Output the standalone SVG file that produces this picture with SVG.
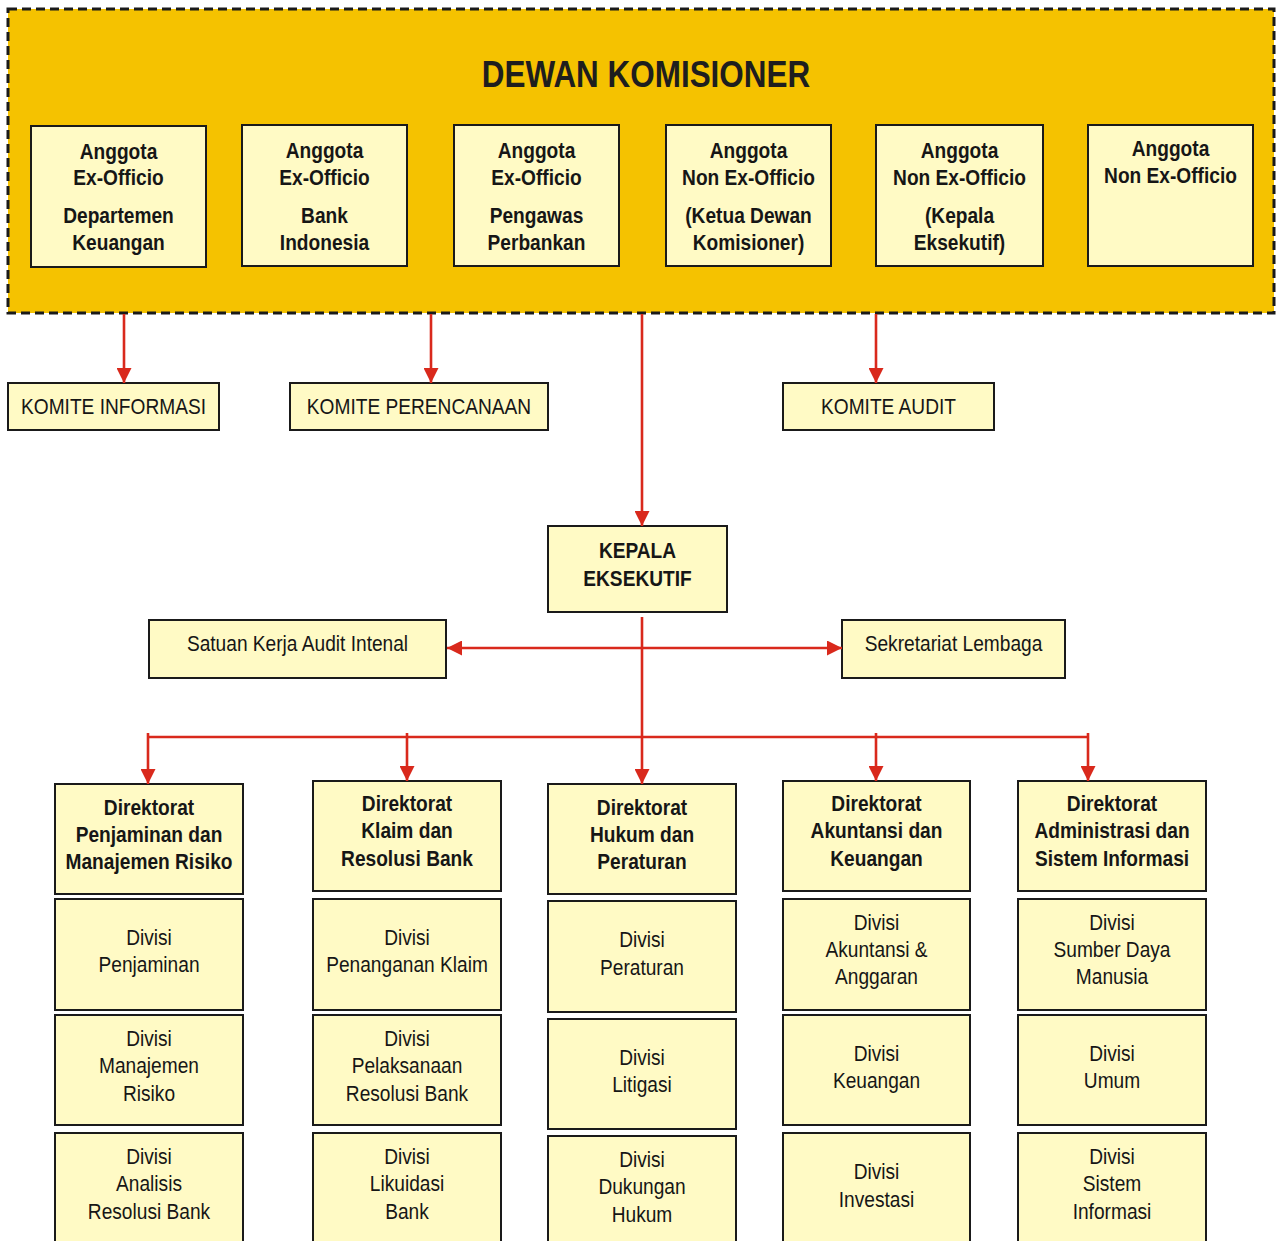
<svg xmlns="http://www.w3.org/2000/svg" width="1276" height="1241" viewBox="0 0 1276 1241">
<style>
.box{fill:#FFFAC5;stroke:#1a1a1a;stroke-width:2}
.sh{fill:#cfcfcf}
.b{font-family:"Liberation Sans",Arial,sans-serif;font-size:22px;font-weight:bold;fill:#161616;text-anchor:middle}
.r{font-family:"Liberation Sans",Arial,sans-serif;font-size:22px;fill:#161616;text-anchor:middle}
.t{font-family:"Liberation Sans",Arial,sans-serif;font-size:37px;font-weight:bold;fill:#1e1e1e;text-anchor:middle}
.ln{stroke:#D9291C;stroke-width:2.6;fill:none}
</style>
<defs>
<marker id="ah" viewBox="0 0 10 10" refX="10" refY="5" markerUnits="userSpaceOnUse" markerWidth="15" markerHeight="15" orient="auto-start-reverse">
<path d="M0,0 L10,5 L0,10 z" fill="#D9291C"/>
</marker>
</defs>
<rect width="1276" height="1241" fill="#ffffff"/>

<g id="dewan">
<rect x="8" y="9" width="1266" height="304" fill="#F5C200" stroke="#1a1a1a" stroke-width="3" stroke-dasharray="9,5"/>
<text class="t" transform="translate(646 0) scale(0.85 1)" x="0" y="87">DEWAN KOMISIONER</text>
</g>

<g id="a1"><rect class="box" x="31" y="126" width="175" height="141"/>
<text class="b" transform="translate(118.5 0) scale(0.87 1)"><tspan x="0" y="159">Anggota</tspan><tspan x="0" y="185">Ex-Officio</tspan><tspan x="0" y="223">Departemen</tspan><tspan x="0" y="250">Keuangan</tspan></text></g>
<g id="a2"><rect class="box" x="242" y="125" width="165" height="141"/>
<text class="b" transform="translate(324.5 0) scale(0.87 1)"><tspan x="0" y="158">Anggota</tspan><tspan x="0" y="185">Ex-Officio</tspan><tspan x="0" y="223">Bank</tspan><tspan x="0" y="250">Indonesia</tspan></text></g>
<g id="a3"><rect class="box" x="454" y="125" width="165" height="141"/>
<text class="b" transform="translate(536.5 0) scale(0.87 1)"><tspan x="0" y="158">Anggota</tspan><tspan x="0" y="185">Ex-Officio</tspan><tspan x="0" y="223">Pengawas</tspan><tspan x="0" y="250">Perbankan</tspan></text></g>
<g id="a4"><rect class="box" x="666" y="125" width="165" height="141"/>
<text class="b" transform="translate(748.5 0) scale(0.87 1)"><tspan x="0" y="158">Anggota</tspan><tspan x="0" y="185">Non Ex-Officio</tspan><tspan x="0" y="223">(Ketua Dewan</tspan><tspan x="0" y="250">Komisioner)</tspan></text></g>
<g id="a5"><rect class="box" x="876" y="125" width="167" height="141"/>
<text class="b" transform="translate(959.5 0) scale(0.87 1)"><tspan x="0" y="158">Anggota</tspan><tspan x="0" y="185">Non Ex-Officio</tspan><tspan x="0" y="223">(Kepala</tspan><tspan x="0" y="250">Eksekutif)</tspan></text></g>
<g id="a6"><rect class="box" x="1088" y="125" width="165" height="141"/>
<text class="b" transform="translate(1170.5 0) scale(0.87 1)"><tspan x="0" y="156">Anggota</tspan><tspan x="0" y="183">Non Ex-Officio</tspan></text></g>

<g id="k1"><rect class="box" x="8" y="383" width="211" height="47"/>
<text class="r" transform="translate(113.5 0) scale(0.87 1)" x="0" y="414">KOMITE INFORMASI</text></g>
<g id="k2"><rect class="box" x="290" y="383" width="258" height="47"/>
<text class="r" transform="translate(419 0) scale(0.87 1)" x="0" y="414">KOMITE PERENCANAAN</text></g>
<g id="k3"><rect class="box" x="783" y="383" width="211" height="47"/>
<text class="r" transform="translate(888.5 0) scale(0.87 1)" x="0" y="414">KOMITE AUDIT</text></g>

<g id="kepala"><rect class="box" x="548" y="526" width="179" height="86"/>
<text class="b" transform="translate(637.5 0) scale(0.87 1)"><tspan x="0" y="558">KEPALA</tspan><tspan x="0" y="586">EKSEKUTIF</tspan></text></g>
<g id="skai"><rect class="box" x="149" y="620" width="297" height="58"/>
<text class="r" transform="translate(297.5 0) scale(0.87 1)" x="0" y="651">Satuan Kerja Audit Intenal</text></g>
<g id="sekr"><rect class="box" x="842" y="620" width="223" height="58"/>
<text class="r" transform="translate(953.5 0) scale(0.87 1)" x="0" y="651">Sekretariat Lembaga</text></g>

<g id="d1"><rect class="box" x="55" y="784" width="188" height="110"/>
<text class="b" transform="translate(149 0) scale(0.87 1)"><tspan x="0" y="815">Direktorat</tspan><tspan x="0" y="842">Penjaminan dan</tspan><tspan x="0" y="869">Manajemen Risiko</tspan></text></g>
<g id="d2"><rect class="box" x="313" y="781" width="188" height="110"/>
<text class="b" transform="translate(407 0) scale(0.87 1)"><tspan x="0" y="811">Direktorat</tspan><tspan x="0" y="838">Klaim dan</tspan><tspan x="0" y="866">Resolusi Bank</tspan></text></g>
<g id="d3"><rect class="box" x="548" y="784" width="188" height="110"/>
<text class="b" transform="translate(642 0) scale(0.87 1)"><tspan x="0" y="815">Direktorat</tspan><tspan x="0" y="842">Hukum dan</tspan><tspan x="0" y="869">Peraturan</tspan></text></g>
<g id="d4"><rect class="box" x="783" y="781" width="187" height="110"/>
<text class="b" transform="translate(876.5 0) scale(0.87 1)"><tspan x="0" y="811">Direktorat</tspan><tspan x="0" y="838">Akuntansi dan</tspan><tspan x="0" y="866">Keuangan</tspan></text></g>
<g id="d5"><rect class="box" x="1018" y="781" width="188" height="110"/>
<text class="b" transform="translate(1112 0) scale(0.87 1)"><tspan x="0" y="811">Direktorat</tspan><tspan x="0" y="838">Administrasi dan</tspan><tspan x="0" y="866">Sistem Informasi</tspan></text></g>

<g id="v11"><rect class="box" x="55" y="899" width="188" height="111"/>
<text class="r" transform="translate(149 0) scale(0.87 1)"><tspan x="0" y="945">Divisi</tspan><tspan x="0" y="972">Penjaminan</tspan></text></g>
<g id="v12"><rect class="box" x="55" y="1015" width="188" height="110"/>
<text class="r" transform="translate(149 0) scale(0.87 1)"><tspan x="0" y="1046">Divisi</tspan><tspan x="0" y="1073">Manajemen</tspan><tspan x="0" y="1101">Risiko</tspan></text></g>
<g id="v13"><rect class="box" x="55" y="1133" width="188" height="120"/>
<text class="r" transform="translate(149 0) scale(0.87 1)"><tspan x="0" y="1164">Divisi</tspan><tspan x="0" y="1191">Analisis</tspan><tspan x="0" y="1219">Resolusi Bank</tspan></text></g>

<g id="v21"><rect class="box" x="313" y="899" width="188" height="111"/>
<text class="r" transform="translate(407 0) scale(0.87 1)"><tspan x="0" y="945">Divisi</tspan><tspan x="0" y="972">Penanganan Klaim</tspan></text></g>
<g id="v22"><rect class="box" x="313" y="1015" width="188" height="110"/>
<text class="r" transform="translate(407 0) scale(0.87 1)"><tspan x="0" y="1046">Divisi</tspan><tspan x="0" y="1073">Pelaksanaan</tspan><tspan x="0" y="1101">Resolusi Bank</tspan></text></g>
<g id="v23"><rect class="box" x="313" y="1133" width="188" height="120"/>
<text class="r" transform="translate(407 0) scale(0.87 1)"><tspan x="0" y="1164">Divisi</tspan><tspan x="0" y="1191">Likuidasi</tspan><tspan x="0" y="1219">Bank</tspan></text></g>

<g id="v31"><rect class="box" x="548" y="901" width="188" height="111"/>
<text class="r" transform="translate(642 0) scale(0.87 1)"><tspan x="0" y="947">Divisi</tspan><tspan x="0" y="975">Peraturan</tspan></text></g>
<g id="v32"><rect class="box" x="548" y="1019" width="188" height="110"/>
<text class="r" transform="translate(642 0) scale(0.87 1)"><tspan x="0" y="1065">Divisi</tspan><tspan x="0" y="1092">Litigasi</tspan></text></g>
<g id="v33"><rect class="box" x="548" y="1136" width="188" height="117"/>
<text class="r" transform="translate(642 0) scale(0.87 1)"><tspan x="0" y="1167">Divisi</tspan><tspan x="0" y="1194">Dukungan</tspan><tspan x="0" y="1222">Hukum</tspan></text></g>

<g id="v41"><rect class="box" x="783" y="899" width="187" height="111"/>
<text class="r" transform="translate(876.5 0) scale(0.87 1)"><tspan x="0" y="930">Divisi</tspan><tspan x="0" y="957">Akuntansi &amp;</tspan><tspan x="0" y="984">Anggaran</tspan></text></g>
<g id="v42"><rect class="box" x="783" y="1015" width="187" height="110"/>
<text class="r" transform="translate(876.5 0) scale(0.87 1)"><tspan x="0" y="1061">Divisi</tspan><tspan x="0" y="1088">Keuangan</tspan></text></g>
<g id="v43"><rect class="box" x="783" y="1133" width="187" height="120"/>
<text class="r" transform="translate(876.5 0) scale(0.87 1)"><tspan x="0" y="1179">Divisi</tspan><tspan x="0" y="1207">Investasi</tspan></text></g>

<g id="v51"><rect class="box" x="1018" y="899" width="188" height="111"/>
<text class="r" transform="translate(1112 0) scale(0.87 1)"><tspan x="0" y="930">Divisi</tspan><tspan x="0" y="957">Sumber Daya</tspan><tspan x="0" y="984">Manusia</tspan></text></g>
<g id="v52"><rect class="box" x="1018" y="1015" width="188" height="110"/>
<text class="r" transform="translate(1112 0) scale(0.87 1)"><tspan x="0" y="1061">Divisi</tspan><tspan x="0" y="1088">Umum</tspan></text></g>
<g id="v53"><rect class="box" x="1018" y="1133" width="188" height="120"/>
<text class="r" transform="translate(1112 0) scale(0.87 1)"><tspan x="0" y="1164">Divisi</tspan><tspan x="0" y="1191">Sistem</tspan><tspan x="0" y="1219">Informasi</tspan></text></g>

<g id="connectors">
<line class="ln" x1="124" y1="314" x2="124" y2="383" marker-end="url(#ah)"/>
<line class="ln" x1="431" y1="314" x2="431" y2="383" marker-end="url(#ah)"/>
<line class="ln" x1="876" y1="314" x2="876" y2="383" marker-end="url(#ah)"/>
<line class="ln" x1="642" y1="314" x2="642" y2="526" marker-end="url(#ah)"/>
<line class="ln" x1="447" y1="648" x2="842" y2="648" marker-start="url(#ah)" marker-end="url(#ah)"/>
<line class="ln" x1="642" y1="617" x2="642" y2="784" marker-end="url(#ah)"/>
<line class="ln" x1="148" y1="737" x2="1089" y2="737"/>
<line class="ln" x1="148" y1="733" x2="148" y2="784" marker-end="url(#ah)"/>
<line class="ln" x1="407" y1="733" x2="407" y2="781" marker-end="url(#ah)"/>
<line class="ln" x1="876" y1="733" x2="876" y2="781" marker-end="url(#ah)"/>
<line class="ln" x1="1088" y1="733" x2="1088" y2="781" marker-end="url(#ah)"/>
</g>
</svg>
